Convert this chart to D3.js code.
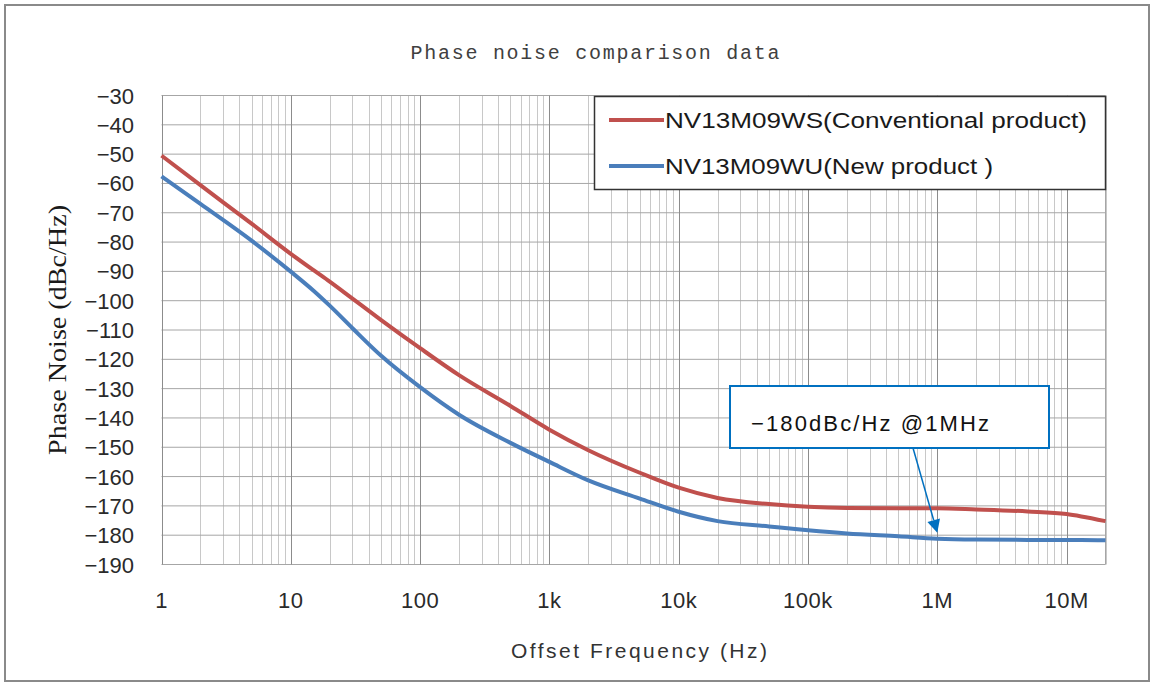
<!DOCTYPE html>
<html>
<head>
<meta charset="utf-8">
<script src="https://cdn.jsdelivr.net/npm/d3@7"></script>
<style>
  html, body { margin: 0; padding: 0; background: #fff; }
  svg { display: block; }
</style>
</head>
<body>
<svg id="chart" width="1153" height="684"></svg>
<script>
// offset frequencies (Hz)
var freqs = [1, 2, 5, 10, 15, 20, 30, 50, 100, 200, 500, 1e3, 2e3, 5e3, 1e4, 2e4, 5e4,
             1e5, 2e5, 5e5, 1e6, 2e6, 5e6, 1e7, 1.3e7, 2e7];
// NV13M09WS (conventional)
var wsValues = [-50.5, -60.6, -73.8, -84, -89.6, -93.5, -99.3, -106.6, -116.2, -125.4, -135.9,
                -144, -151, -158.7, -163.8, -167.3, -169.4, -170.3, -170.7, -170.8, -170.8,
                -171.2, -171.9, -172.8, -173.6, -175.2];
// NV13M09WU (new)
var wuValues = [-57.6, -67.0, -79.6, -90.1, -96.6, -101.7, -109.4, -118.8, -129.5, -138.9, -148.5,
                -155, -161.3, -167.5, -172, -175.2, -177, -178.3, -179.4, -180.4, -181.2,
                -181.5, -181.6, -181.6, -181.6, -181.7];
var seriesNames = ["NV13M09WS(Conventional product)", "NV13M09WU(New product )"];
var seriesColors = ["#c0504d", "#4a7ebb"];
var xTickValues = [1, 10, 100, 1e3, 1e4, 1e5, 1e6, 1e7];
var xTickLabels = ["1", "10", "100", "1k", "10k", "100k", "1M", "10M"];
var yTickValues = d3.range(-190, -29, 10);
var noteText = "\u2212180dBc/Hz @1MHz";
var noteFreq = 1e6, noteValue = -181.2;

var svg = d3.select("#chart");

// outer frame
svg.append("rect").attr("x", 5).attr("y", 5).attr("width", 1144).attr("height", 676)
  .attr("fill", "#fff").attr("stroke", "#8a8a8a").attr("stroke-width", 2);

var x = d3.scaleLog().domain([1, 2e7]).range([161.5, 1105.5]);
var y = d3.scaleLinear().domain([-190, -30]).range([564.5, 95.5]);

var grid = svg.append("g");
// minor verticals
var minor = [];
for (var e = 0; e <= 7; e++) {
  for (var m = 2; m <= 9; m++) {
    var f = m * Math.pow(10, e);
    if (f <= 2e7) minor.push(f);
  }
}
grid.selectAll(".minor").data(minor).enter().append("line")
  .attr("x1", d => Math.round(x(d)) + 0.5).attr("x2", d => Math.round(x(d)) + 0.5)
  .attr("y1", y(-30)).attr("y2", y(-190))
  .attr("stroke", "#c8c8c8").attr("stroke-width", 1);
grid.selectAll(".hline").data(yTickValues).enter().append("line")
  .attr("x1", x(1)).attr("x2", x(2e7))
  .attr("y1", d => y(d)).attr("y2", d => y(d))
  .attr("stroke", "#a6a6a6").attr("stroke-width", 1);
grid.selectAll(".major").data(xTickValues).enter().append("line")
  .attr("x1", d => Math.round(x(d)) + 0.5).attr("x2", d => Math.round(x(d)) + 0.5)
  .attr("y1", y(-30)).attr("y2", y(-190))
  .attr("stroke", "#8c8c8c").attr("stroke-width", 1);
grid.append("line").attr("x1", x(2e7)).attr("x2", x(2e7)).attr("y1", y(-30)).attr("y2", y(-190))
  .attr("stroke", "#a6a6a6");

// tick labels
svg.append("g").selectAll("text").data(yTickValues).enter().append("text")
  .attr("x", 134).attr("y", d => y(d) + 8)
  .attr("text-anchor", "end")
  .style("font-family", "'Liberation Sans', Arial, sans-serif").style("font-size", "22px")
  .attr("fill", "#2a2a2a")
  .text(d => String(d).replace("-", "\u2212"));
svg.append("g").selectAll("text").data(xTickValues).enter().append("text")
  .attr("x", d => x(d)).attr("y", 608)
  .attr("text-anchor", "middle")
  .style("font-family", "'Liberation Sans', Arial, sans-serif").style("font-size", "22px")
  .style("letter-spacing", "0.5px")
  .attr("fill", "#2a2a2a")
  .text((d, i) => xTickLabels[i]);

// lines
var line = d3.line().x(d => x(d[0])).y(d => y(d[1])).curve(d3.curveMonotoneX);
[wsValues, wuValues].forEach(function(vals, i) {
  svg.append("path").datum(freqs.map((f, j) => [f, vals[j]]))
    .attr("d", line).attr("fill", "none")
    .attr("stroke", seriesColors[i]).attr("stroke-width", 4)
    .attr("stroke-linejoin", "round");
});

// legend
var lg = svg.append("g");
lg.append("rect").attr("x", 594.5).attr("y", 96.5).attr("width", 511).attr("height", 93)
  .attr("fill", "#fff").attr("stroke", "#333").attr("stroke-width", 1.5);
seriesNames.forEach(function(name, i) {
  var ly = 120 + i * 46;
  lg.append("line").attr("x1", 609).attr("x2", 664).attr("y1", ly).attr("y2", ly)
    .attr("stroke", seriesColors[i]).attr("stroke-width", 4);
  lg.append("text").attr("x", 665).attr("y", ly + 8)
    .style("font-family", "'Liberation Sans', Arial, sans-serif").style("font-size", "22px")
    .attr("fill", "#1a1a1a")
    .attr("textLength", i == 0 ? 422 : 328).attr("lengthAdjust", "spacingAndGlyphs")
    .text(name);
});

// titles
svg.append("text").attr("x", 595).attr("y", 59).attr("text-anchor", "middle")
  .style("font-family", "'Liberation Mono', 'DejaVu Sans Mono', monospace").style("font-size", "20px")
  .attr("fill", "#404040")
  .attr("textLength", 369).attr("lengthAdjust", "spacing")
  .text("Phase noise comparison data");
svg.append("text").attr("x", 639).attr("y", 658).attr("text-anchor", "middle")
  .style("font-family", "'Liberation Sans', Arial, sans-serif").style("font-size", "21px")
  .attr("fill", "#333")
  .attr("textLength", 256).attr("lengthAdjust", "spacing")
  .text("Offset Frequency (Hz)");
svg.append("text").attr("transform", "translate(66,330) rotate(-90)").attr("text-anchor", "middle")
  .style("font-family", "'Liberation Serif', 'Times New Roman', serif").style("font-size", "26px")
  .attr("fill", "#1a1a1a")
  .attr("textLength", 250).attr("lengthAdjust", "spacingAndGlyphs")
  .text("Phase Noise (dBc/Hz)");

// annotation
var tipX = x(noteFreq), tipY = y(noteValue) - 6;
var sx = 913, sy = 448;
var ang = Math.atan2(tipY - sy, tipX - sx);
var ah = 13, aw = 6.5;
var bx = tipX - ah * Math.cos(ang), by = tipY - ah * Math.sin(ang);
svg.append("line").attr("x1", sx).attr("y1", sy).attr("x2", bx).attr("y2", by)
  .attr("stroke", "#0070c0").attr("stroke-width", 1.5);
svg.append("path")
  .attr("d", "M" + tipX + "," + tipY +
    "L" + (bx + aw * Math.sin(ang)) + "," + (by - aw * Math.cos(ang)) +
    "L" + (bx - aw * Math.sin(ang)) + "," + (by + aw * Math.cos(ang)) + "Z")
  .attr("fill", "#0070c0");
svg.append("rect").attr("x", 730).attr("y", 386).attr("width", 319).attr("height", 62)
  .attr("fill", "#fff").attr("stroke", "#0070c0").attr("stroke-width", 2);
svg.append("text").attr("x", 751).attr("y", 431)
  .style("font-family", "'Liberation Sans', Arial, sans-serif").style("font-size", "22px")
  .attr("fill", "#111")
  .attr("textLength", 238).attr("lengthAdjust", "spacing")
  .text(noteText);
</script>
</body>
</html>
